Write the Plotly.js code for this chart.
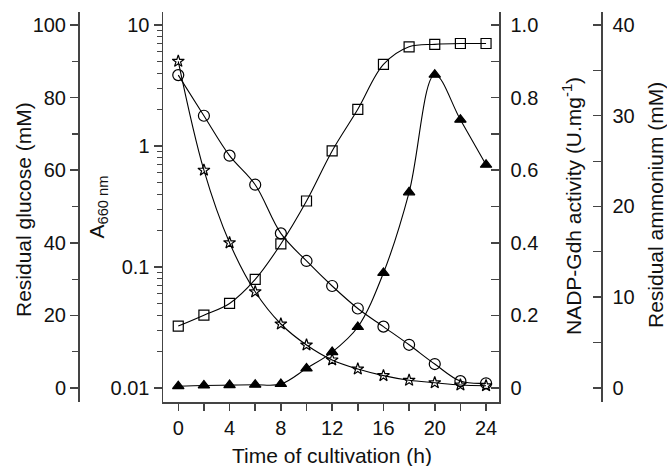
<!DOCTYPE html>
<html><head><meta charset="utf-8">
<script src="https://cdn.plot.ly/plotly-3.0.1.min.js"></script>
<style>html,body{margin:0;padding:0;background:#fff}#chart{width:667px;height:466px}</style>
</head><body><div id="chart"></div>
<script>
// Time of cultivation (h)
const hours = [0, 2, 4, 6, 8, 10, 12, 14, 16, 18, 20, 22, 24];
// A660 nm (open squares, log axis)
const a660 = [0.0325, 0.040, 0.050, 0.079, 0.155, 0.351, 0.91, 2.01, 4.72, 6.6, 6.92, 7.03, 7.03];
// Residual glucose, mM (open circles)
const glucose = [86.2, 75.0, 64.0, 56.0, 42.6, 35.0, 28.1, 21.9, 16.9, 11.9, 6.6, 1.9, 1.3];
// Residual ammonium, mM (open stars)
const ammonium = [36.0, 24.0, 16.0, 10.6, 7.05, 4.74, 3.09, 2.09, 1.36, 0.85, 0.58, 0.33, 0.25];
// NADP-Gdh activity, U/mg (filled triangles)
const nadp = [0.005, 0.007, 0.008, 0.009, 0.011, 0.054, 0.099, 0.168, 0.317, 0.539, 0.863, 0.739, 0.615];

const xTickVals = [0, 4, 8, 12, 16, 20, 24];
const a660TickVals = [0.01, 0.1, 1, 10];
const a660TickText = ['0.01', '0.1', '1', '10'];
const a660MinorVals = [0.02, 0.03, 0.04, 0.05, 0.06, 0.07, 0.08, 0.09,
                       0.2, 0.3, 0.4, 0.5, 0.6, 0.7, 0.8, 0.9,
                       2, 3, 4, 5, 6, 7, 8, 9];
const glucoseTicks = [0, 20, 40, 60, 80, 100];
const nadpTickVals = [0, 0.2, 0.4, 0.6, 0.8, 1.0];
const nadpTickText = ['0', '0.2', '0.4', '0.6', '0.8', '1.0'];
const ammoniumTicks = [0, 10, 20, 30, 40];

const FAM = 'Liberation Sans, Arial, Helvetica, sans-serif';
const TICKFONT = {family: FAM, size: 20, color: '#111'};
const AX = '#444';
const base = {showline: true, linecolor: AX, linewidth: 1.5, ticks: 'outside', tickcolor: AX,
  tickwidth: 1.5, ticklen: 8, showgrid: false, zeroline: false, tickfont: TICKFONT, fixedrange: true};

function tr(y, axis, symbol, size) {
  return {
    x: hours, y: y, yaxis: axis, mode: 'lines+markers', type: 'scatter',
    line: {color: '#000', width: 1.1, shape: 'spline', smoothing: 1},
    marker: {symbol: symbol, size: size, color: '#000', line: {color: '#000', width: 1.2}},
    showlegend: false, hoverinfo: 'x+y'
  };
}

const data = [
  tr(a660, 'y', 'square-open', 10),
  tr(glucose, 'y2', 'circle-open', 11),
  tr(ammonium, 'y4', 'star-open', 9),
  tr(nadp, 'y3', 'triangle-up', 10)
];

const W = 523, H = 390, L = 78, T = 12;
function px(x) { return (x - L) / W; }
function py(y) { return (T + H - y) / H; }
const TF = {family: FAM, size: 21, color: '#111'};

const layout = {
  width: 667, height: 466,
  margin: {l: 78, r: 66, t: 12, b: 64},
  paper_bgcolor: '#fff', plot_bgcolor: 'rgba(0,0,0,0)',
  showlegend: false,
  xaxis: Object.assign({}, base, {
    domain: [px(163), px(499)], range: [-1.19, 25.01],
    tickmode: 'array', tickvals: xTickVals, ticklen: 7,
    minor: {dtick: 2, tick0: 0, ticks: 'outside', ticklen: 7, tickcolor: AX, tickwidth: 1.5}
  }),
  yaxis: Object.assign({}, base, {
    type: 'log', anchor: 'x', side: 'left', range: [-2.1157, 1.1074],
    tickmode: 'array', tickvals: a660TickVals, ticktext: a660TickText,
    title: {text: 'A<sub>660 nm</sub>', font: TF, standoff: 0},
    minor: {tickmode: 'array', tickvals: a660MinorVals, ticks: 'outside', ticklen: 5, tickcolor: AX, tickwidth: 1.2}
  }),
  yaxis2: Object.assign({}, base, {
    overlaying: 'y', anchor: 'free', position: 0, side: 'left',
    range: [-3.857, 103.58], tickmode: 'array', tickvals: glucoseTicks,
    minor: {dtick: 10, tick0: 0, ticks: 'outside', ticklen: 6, tickcolor: AX, tickwidth: 1.2}
  }),
  yaxis3: Object.assign({}, base, {
    overlaying: 'y', anchor: 'x', side: 'right', ticks: 'inside',
    range: [-0.03857, 1.0358], tickmode: 'array', tickvals: nadpTickVals, ticktext: nadpTickText,
    ticklabelstandoff: 6,
    minor: {dtick: 0.1, tick0: 0, ticks: 'inside', ticklen: 8, tickcolor: AX, tickwidth: 1.2}
  }),
  yaxis4: Object.assign({}, base, {
    overlaying: 'y', anchor: 'free', position: 1, side: 'right', ticks: 'inside',
    range: [-1.543, 41.43], tickmode: 'array', tickvals: ammoniumTicks,
    ticklabelstandoff: 6,
    minor: {dtick: 5, tick0: 0, ticks: 'inside', ticklen: 8, tickcolor: AX, tickwidth: 1.2}
  }),
  annotations: [
    {text: 'Residual glucose (mM)', xref: 'paper', yref: 'paper', x: px(23), y: py(210),
     textangle: -90, showarrow: false, xanchor: 'center', yanchor: 'middle', font: TF},
    {text: 'NADP-Gdh activity (U.mg<sup>-1</sup>)', xref: 'paper', yref: 'paper', x: px(572), y: py(206),
     textangle: -90, showarrow: false, xanchor: 'center', yanchor: 'middle', font: TF},
    {text: 'Residual ammonium (mM)', xref: 'paper', yref: 'paper', x: px(655), y: py(205),
     textangle: -90, showarrow: false, xanchor: 'center', yanchor: 'middle', font: TF},
    {text: 'Time of cultivation (h)', xref: 'paper', yref: 'paper', x: px(332), y: py(455),
     showarrow: false, xanchor: 'center', yanchor: 'middle', font: TF}
  ]
};

Plotly.newPlot('chart', data, layout, {displayModeBar: false, staticPlot: true});
</script>
</body></html>
